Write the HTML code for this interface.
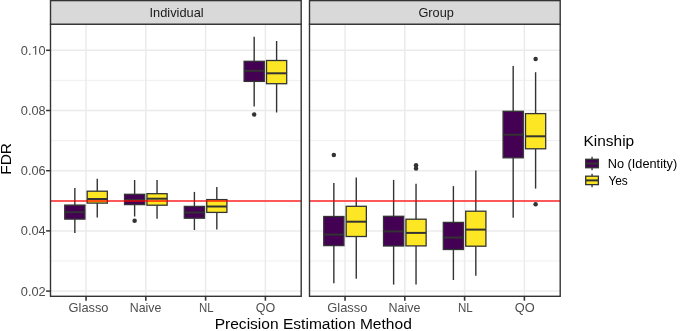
<!DOCTYPE html>
<html><head><meta charset="utf-8"><style>
html,body{margin:0;padding:0;background:#fff;width:685px;height:331px;overflow:hidden}
svg text{font-family:"Liberation Sans",sans-serif}
svg{will-change:transform}
</style></head><body>
<svg width="685" height="331" viewBox="0 0 685 331" style="display:block">
<rect width="685" height="331" fill="#fff"/>
<line x1="50.5" x2="301.2" y1="80.40" y2="80.40" stroke="#EBEBEB" stroke-width="0.8"/>
<line x1="50.5" x2="301.2" y1="140.60" y2="140.60" stroke="#EBEBEB" stroke-width="0.8"/>
<line x1="50.5" x2="301.2" y1="200.80" y2="200.80" stroke="#EBEBEB" stroke-width="0.8"/>
<line x1="50.5" x2="301.2" y1="261.00" y2="261.00" stroke="#EBEBEB" stroke-width="0.8"/>
<line x1="50.5" x2="301.2" y1="50.30" y2="50.30" stroke="#EBEBEB" stroke-width="1.5"/>
<line x1="50.5" x2="301.2" y1="110.50" y2="110.50" stroke="#EBEBEB" stroke-width="1.5"/>
<line x1="50.5" x2="301.2" y1="170.70" y2="170.70" stroke="#EBEBEB" stroke-width="1.5"/>
<line x1="50.5" x2="301.2" y1="230.90" y2="230.90" stroke="#EBEBEB" stroke-width="1.5"/>
<line x1="50.5" x2="301.2" y1="291.10" y2="291.10" stroke="#EBEBEB" stroke-width="1.5"/>
<line x1="86.05" x2="86.05" y1="24.2" y2="296.3" stroke="#EBEBEB" stroke-width="1.5"/>
<line x1="145.83" x2="145.83" y1="24.2" y2="296.3" stroke="#EBEBEB" stroke-width="1.5"/>
<line x1="205.61" x2="205.61" y1="24.2" y2="296.3" stroke="#EBEBEB" stroke-width="1.5"/>
<line x1="265.39" x2="265.39" y1="24.2" y2="296.3" stroke="#EBEBEB" stroke-width="1.5"/>
<line x1="74.84" x2="74.84" y1="188.0" y2="205.1" stroke="#333333" stroke-width="1.4"/>
<line x1="74.84" x2="74.84" y1="219.1" y2="233.0" stroke="#333333" stroke-width="1.4"/>
<rect x="64.75" y="205.1" width="20.18" height="14.00" fill="#440154" stroke="#333333" stroke-width="1.3"/>
<line x1="64.75" x2="84.93" y1="212.2" y2="212.2" stroke="#333333" stroke-width="2"/>
<line x1="97.26" x2="97.26" y1="178.8" y2="191.2" stroke="#333333" stroke-width="1.4"/>
<line x1="97.26" x2="97.26" y1="203.1" y2="217.6" stroke="#333333" stroke-width="1.4"/>
<rect x="87.17" y="191.2" width="20.18" height="11.90" fill="#FDE725" stroke="#333333" stroke-width="1.3"/>
<line x1="87.17" x2="107.35" y1="199.0" y2="199.0" stroke="#333333" stroke-width="2"/>
<line x1="134.62" x2="134.62" y1="180.0" y2="194.3" stroke="#333333" stroke-width="1.4"/>
<line x1="134.62" x2="134.62" y1="204.6" y2="216.5" stroke="#333333" stroke-width="1.4"/>
<rect x="124.53" y="194.3" width="20.18" height="10.30" fill="#440154" stroke="#333333" stroke-width="1.3"/>
<line x1="124.53" x2="144.71" y1="200.0" y2="200.0" stroke="#333333" stroke-width="2"/>
<circle cx="134.62" cy="220.8" r="2.25" fill="#333333"/>
<line x1="157.04" x2="157.04" y1="180.0" y2="193.7" stroke="#333333" stroke-width="1.4"/>
<line x1="157.04" x2="157.04" y1="205.2" y2="218.8" stroke="#333333" stroke-width="1.4"/>
<rect x="146.95" y="193.7" width="20.18" height="11.50" fill="#FDE725" stroke="#333333" stroke-width="1.3"/>
<line x1="146.95" x2="167.13" y1="198.7" y2="198.7" stroke="#333333" stroke-width="2"/>
<line x1="194.40" x2="194.40" y1="191.9" y2="206.4" stroke="#333333" stroke-width="1.4"/>
<line x1="194.40" x2="194.40" y1="218.2" y2="230.0" stroke="#333333" stroke-width="1.4"/>
<rect x="184.31" y="206.4" width="20.18" height="11.80" fill="#440154" stroke="#333333" stroke-width="1.3"/>
<line x1="184.31" x2="204.49" y1="212.5" y2="212.5" stroke="#333333" stroke-width="2"/>
<line x1="216.82" x2="216.82" y1="186.9" y2="199.6" stroke="#333333" stroke-width="1.4"/>
<line x1="216.82" x2="216.82" y1="212.4" y2="229.5" stroke="#333333" stroke-width="1.4"/>
<rect x="206.73" y="199.6" width="20.18" height="12.80" fill="#FDE725" stroke="#333333" stroke-width="1.3"/>
<line x1="206.73" x2="226.91" y1="206.5" y2="206.5" stroke="#333333" stroke-width="2"/>
<line x1="254.18" x2="254.18" y1="36.8" y2="61.3" stroke="#333333" stroke-width="1.4"/>
<line x1="254.18" x2="254.18" y1="81.4" y2="106.5" stroke="#333333" stroke-width="1.4"/>
<rect x="244.09" y="61.3" width="20.18" height="20.10" fill="#440154" stroke="#333333" stroke-width="1.3"/>
<line x1="244.09" x2="264.27" y1="70.8" y2="70.8" stroke="#333333" stroke-width="2"/>
<circle cx="254.18" cy="114.6" r="2.25" fill="#333333"/>
<line x1="276.60" x2="276.60" y1="41.0" y2="60.5" stroke="#333333" stroke-width="1.4"/>
<line x1="276.60" x2="276.60" y1="83.7" y2="112.5" stroke="#333333" stroke-width="1.4"/>
<rect x="266.51" y="60.5" width="20.18" height="23.20" fill="#FDE725" stroke="#333333" stroke-width="1.3"/>
<line x1="266.51" x2="286.69" y1="73.3" y2="73.3" stroke="#333333" stroke-width="2"/>
<line x1="50.5" x2="301.2" y1="201.0" y2="201.0" stroke="#FF0000" stroke-opacity="0.85" stroke-width="1.6"/>
<rect x="50.5" y="24.2" width="250.70" height="272.10" fill="none" stroke="#333333" stroke-width="1.4"/>
<rect x="50.5" y="0.6" width="250.70" height="23.60" fill="#D9D9D9" stroke="#333333" stroke-width="1.4"/>
<text transform="translate(149.44,16.80) scale(1.0280,1)" font-size="12.5" fill="#1A1A1A">Individual</text>
<line x1="86.05" x2="86.05" y1="296.3" y2="300.70" stroke="#333333" stroke-width="1.6"/>
<text transform="translate(68.56,312.30) scale(1.0278,1)" font-size="12.5" fill="#4D4D4D">Glasso</text>
<line x1="145.83" x2="145.83" y1="296.3" y2="300.70" stroke="#333333" stroke-width="1.6"/>
<text transform="translate(129.81,312.30) scale(0.9877,1)" font-size="12.5" fill="#4D4D4D">Naive</text>
<line x1="205.61" x2="205.61" y1="296.3" y2="300.70" stroke="#333333" stroke-width="1.6"/>
<text transform="translate(198.99,312.30) scale(0.9133,1)" font-size="12.5" fill="#4D4D4D">NL</text>
<line x1="265.39" x2="265.39" y1="296.3" y2="300.70" stroke="#333333" stroke-width="1.6"/>
<text transform="translate(255.84,312.30) scale(1.0027,1)" font-size="12.5" fill="#4D4D4D">QO</text>
<line x1="309.5" x2="560.2" y1="80.40" y2="80.40" stroke="#EBEBEB" stroke-width="0.8"/>
<line x1="309.5" x2="560.2" y1="140.60" y2="140.60" stroke="#EBEBEB" stroke-width="0.8"/>
<line x1="309.5" x2="560.2" y1="200.80" y2="200.80" stroke="#EBEBEB" stroke-width="0.8"/>
<line x1="309.5" x2="560.2" y1="261.00" y2="261.00" stroke="#EBEBEB" stroke-width="0.8"/>
<line x1="309.5" x2="560.2" y1="50.30" y2="50.30" stroke="#EBEBEB" stroke-width="1.5"/>
<line x1="309.5" x2="560.2" y1="110.50" y2="110.50" stroke="#EBEBEB" stroke-width="1.5"/>
<line x1="309.5" x2="560.2" y1="170.70" y2="170.70" stroke="#EBEBEB" stroke-width="1.5"/>
<line x1="309.5" x2="560.2" y1="230.90" y2="230.90" stroke="#EBEBEB" stroke-width="1.5"/>
<line x1="309.5" x2="560.2" y1="291.10" y2="291.10" stroke="#EBEBEB" stroke-width="1.5"/>
<line x1="345.05" x2="345.05" y1="24.2" y2="296.3" stroke="#EBEBEB" stroke-width="1.5"/>
<line x1="404.83" x2="404.83" y1="24.2" y2="296.3" stroke="#EBEBEB" stroke-width="1.5"/>
<line x1="464.61" x2="464.61" y1="24.2" y2="296.3" stroke="#EBEBEB" stroke-width="1.5"/>
<line x1="524.39" x2="524.39" y1="24.2" y2="296.3" stroke="#EBEBEB" stroke-width="1.5"/>
<line x1="333.84" x2="333.84" y1="183.1" y2="216.5" stroke="#333333" stroke-width="1.4"/>
<line x1="333.84" x2="333.84" y1="245.6" y2="283.3" stroke="#333333" stroke-width="1.4"/>
<rect x="323.75" y="216.5" width="20.18" height="29.10" fill="#440154" stroke="#333333" stroke-width="1.3"/>
<line x1="323.75" x2="343.93" y1="234.6" y2="234.6" stroke="#333333" stroke-width="2"/>
<circle cx="333.84" cy="154.9" r="2.25" fill="#333333"/>
<line x1="356.26" x2="356.26" y1="177.5" y2="206.3" stroke="#333333" stroke-width="1.4"/>
<line x1="356.26" x2="356.26" y1="236.5" y2="278.8" stroke="#333333" stroke-width="1.4"/>
<rect x="346.17" y="206.3" width="20.18" height="30.20" fill="#FDE725" stroke="#333333" stroke-width="1.3"/>
<line x1="346.17" x2="366.35" y1="221.7" y2="221.7" stroke="#333333" stroke-width="2"/>
<line x1="393.62" x2="393.62" y1="179.9" y2="216.3" stroke="#333333" stroke-width="1.4"/>
<line x1="393.62" x2="393.62" y1="246.0" y2="284.6" stroke="#333333" stroke-width="1.4"/>
<rect x="383.53" y="216.3" width="20.18" height="29.70" fill="#440154" stroke="#333333" stroke-width="1.3"/>
<line x1="383.53" x2="403.71" y1="231.4" y2="231.4" stroke="#333333" stroke-width="2"/>
<line x1="416.04" x2="416.04" y1="183.7" y2="219.2" stroke="#333333" stroke-width="1.4"/>
<line x1="416.04" x2="416.04" y1="245.9" y2="284.6" stroke="#333333" stroke-width="1.4"/>
<rect x="405.95" y="219.2" width="20.18" height="26.70" fill="#FDE725" stroke="#333333" stroke-width="1.3"/>
<line x1="405.95" x2="426.13" y1="232.9" y2="232.9" stroke="#333333" stroke-width="2"/>
<circle cx="416.04" cy="165.2" r="2.25" fill="#333333"/>
<circle cx="416.04" cy="168.4" r="2.25" fill="#333333"/>
<line x1="453.40" x2="453.40" y1="186.1" y2="222.4" stroke="#333333" stroke-width="1.4"/>
<line x1="453.40" x2="453.40" y1="249.5" y2="280.0" stroke="#333333" stroke-width="1.4"/>
<rect x="443.31" y="222.4" width="20.18" height="27.10" fill="#440154" stroke="#333333" stroke-width="1.3"/>
<line x1="443.31" x2="463.49" y1="237.5" y2="237.5" stroke="#333333" stroke-width="2"/>
<line x1="475.82" x2="475.82" y1="170.4" y2="211.2" stroke="#333333" stroke-width="1.4"/>
<line x1="475.82" x2="475.82" y1="246.2" y2="275.8" stroke="#333333" stroke-width="1.4"/>
<rect x="465.73" y="211.2" width="20.18" height="35.00" fill="#FDE725" stroke="#333333" stroke-width="1.3"/>
<line x1="465.73" x2="485.91" y1="229.6" y2="229.6" stroke="#333333" stroke-width="2"/>
<line x1="513.18" x2="513.18" y1="65.9" y2="111.3" stroke="#333333" stroke-width="1.4"/>
<line x1="513.18" x2="513.18" y1="157.8" y2="217.8" stroke="#333333" stroke-width="1.4"/>
<rect x="503.09" y="111.3" width="20.18" height="46.50" fill="#440154" stroke="#333333" stroke-width="1.3"/>
<line x1="503.09" x2="523.27" y1="134.7" y2="134.7" stroke="#333333" stroke-width="2"/>
<line x1="535.60" x2="535.60" y1="72.2" y2="113.6" stroke="#333333" stroke-width="1.4"/>
<line x1="535.60" x2="535.60" y1="148.8" y2="188.6" stroke="#333333" stroke-width="1.4"/>
<rect x="525.51" y="113.6" width="20.18" height="35.20" fill="#FDE725" stroke="#333333" stroke-width="1.3"/>
<line x1="525.51" x2="545.69" y1="136.3" y2="136.3" stroke="#333333" stroke-width="2"/>
<circle cx="535.60" cy="59.1" r="2.25" fill="#333333"/>
<circle cx="535.60" cy="204.2" r="2.25" fill="#333333"/>
<line x1="309.5" x2="560.2" y1="201.0" y2="201.0" stroke="#FF0000" stroke-opacity="0.85" stroke-width="1.6"/>
<rect x="309.5" y="24.2" width="250.70" height="272.10" fill="none" stroke="#333333" stroke-width="1.4"/>
<rect x="309.5" y="0.6" width="250.70" height="23.60" fill="#D9D9D9" stroke="#333333" stroke-width="1.4"/>
<text transform="translate(418.46,17.00) scale(1.0201,1)" font-size="12.5" fill="#1A1A1A">Group</text>
<line x1="345.05" x2="345.05" y1="296.3" y2="300.70" stroke="#333333" stroke-width="1.6"/>
<text transform="translate(327.25,312.30) scale(1.0331,1)" font-size="12.5" fill="#4D4D4D">Glasso</text>
<line x1="404.83" x2="404.83" y1="296.3" y2="300.70" stroke="#333333" stroke-width="1.6"/>
<text transform="translate(388.50,312.30) scale(0.9975,1)" font-size="12.5" fill="#4D4D4D">Naive</text>
<line x1="464.61" x2="464.61" y1="296.3" y2="300.70" stroke="#333333" stroke-width="1.6"/>
<text transform="translate(457.97,312.30) scale(0.9270,1)" font-size="12.5" fill="#4D4D4D">NL</text>
<line x1="524.39" x2="524.39" y1="296.3" y2="300.70" stroke="#333333" stroke-width="1.6"/>
<text transform="translate(514.72,312.30) scale(1.0247,1)" font-size="12.5" fill="#4D4D4D">QO</text>
<line x1="46.10" x2="50.5" y1="50.30" y2="50.30" stroke="#333333" stroke-width="1.5"/>
<g transform="translate(20.79,54.70) scale(1.0252,1)" fill="#4D4D4D"><text font-size="12.5">0.</text><path transform="translate(10.425,0) scale(0.006104,-0.006104)" d="M581 0H762V1409H645L225 1180V1010L581 1237Z"/><text x="17.375" font-size="12.5">0</text></g>
<line x1="46.10" x2="50.5" y1="110.50" y2="110.50" stroke="#333333" stroke-width="1.5"/>
<text transform="translate(20.79,114.90) scale(1.0252,1)" font-size="12.5" fill="#4D4D4D">0.08</text>
<line x1="46.10" x2="50.5" y1="170.70" y2="170.70" stroke="#333333" stroke-width="1.5"/>
<text transform="translate(20.79,175.10) scale(1.0252,1)" font-size="12.5" fill="#4D4D4D">0.06</text>
<line x1="46.10" x2="50.5" y1="230.90" y2="230.90" stroke="#333333" stroke-width="1.5"/>
<text transform="translate(20.79,235.30) scale(1.0252,1)" font-size="12.5" fill="#4D4D4D">0.04</text>
<line x1="46.10" x2="50.5" y1="291.10" y2="291.10" stroke="#333333" stroke-width="1.5"/>
<text transform="translate(20.79,295.50) scale(1.0252,1)" font-size="12.5" fill="#4D4D4D">0.02</text>
<text transform="translate(10.50,174.74) rotate(-90) scale(1.0118,1)" font-size="15.3" fill="#000">FDR</text>
<text transform="translate(214.65,329.30) scale(1.0177,1)" font-size="15.3" fill="#000">Precision Estimation Method</text>
<text transform="translate(583.56,145.80) scale(1.0093,1)" font-size="15.3" fill="#000">Kinship</text>
<line x1="592.05" x2="592.05" y1="156.74" y2="170.26" stroke="#333333" stroke-width="1.3"/>
<rect x="585.71" y="159.28" width="12.67" height="8.45" fill="#440154" stroke="#333333" stroke-width="1.3"/>
<line x1="585.71" x2="598.39" y1="163.50" y2="163.50" stroke="#333333" stroke-width="2"/>
<line x1="592.05" x2="592.05" y1="173.64" y2="187.16" stroke="#333333" stroke-width="1.3"/>
<rect x="585.71" y="176.18" width="12.67" height="8.45" fill="#FDE725" stroke="#333333" stroke-width="1.3"/>
<line x1="585.71" x2="598.39" y1="180.40" y2="180.40" stroke="#333333" stroke-width="2"/>
<text transform="translate(607.68,168.00) scale(1.0209,1)" font-size="12.5" fill="#000">No (Identity)</text>
<text transform="translate(608.40,184.60) scale(0.9529,1)" font-size="12.5" fill="#000">Yes</text>
</svg>
</body></html>
